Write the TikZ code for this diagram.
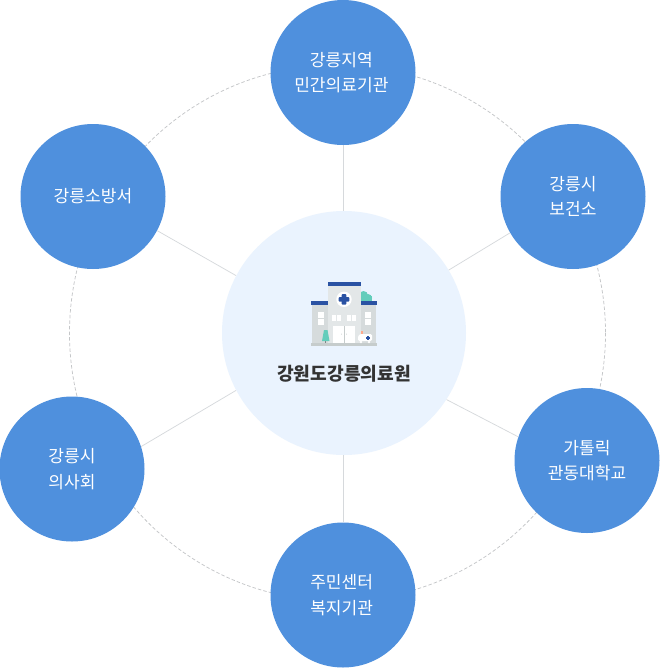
\documentclass[tikz,border=0pt]{standalone}
\usepackage{fontspec}
\setmainfont{Noto Sans CJK KR}
\definecolor{orb}{HTML}{4F90DD}
\definecolor{core}{HTML}{EAF3FE}
\definecolor{spoke}{HTML}{D6D9DC}
\definecolor{ringc}{HTML}{C4C6C8}
\definecolor{navy}{HTML}{2A52A3}
\definecolor{bldg}{HTML}{E3E7E8}
\definecolor{wing}{HTML}{D6DBDC}
\definecolor{bldgb}{HTML}{C6CCCC}
\definecolor{teal}{HTML}{63CDBB}
\tikzset{
  x=0.75pt,y=-0.75pt,
  orbnode/.style={circle,fill=orb,draw=none,minimum size=108.75pt,inner sep=0pt,text=white,align=center,font=\fontsize{12.8pt}{19.2pt}\selectfont},
  corenode/.style={circle,fill=core,draw=none,minimum size=183pt,inner sep=0pt},
  spokeline/.style={draw=spoke,line width=0.55pt},
  ringline/.style={draw=ringc,line width=0.55pt,dash pattern=on 2.6pt off 1.6pt},
  win/.style={fill=white,draw=none},
}
\begin{document}
\begin{tikzpicture}
\useasboundingbox (0,0) rectangle (660,668);
\fill[white] (0,0) rectangle (660,668);
\draw[ringline] (337.5,333) circle[radius=268];
\node[corenode] (c) at (344,333) {};
\node[orbnode] (n1) at (343,72.5) {강릉지역\kern2.4pt\\민간의료기관\kern2.4pt};
\node[orbnode] (n2) at (573,196.5) {강릉시\\보건소};
\node[orbnode] (n3) at (587,460.5) {가톨릭\\관동대학교};
\node[orbnode] (n4) at (343,595) {주민센터\kern2pt\\복지기관\kern2pt};
\node[orbnode] (n5) at (72,469) {강릉시\\의사회};
\node[orbnode] (n6) at (93,196.5) {강릉소방서};
\draw[spokeline] (n1.south) -- (n1 |- c.north);
\draw[spokeline] (n4.north) -- (n4 |- c.south);
\draw[spokeline] (c.31.8) -- (n2.210.8);
\draw[spokeline] (c.327.8) -- (n3.161.2);
\draw[spokeline] (c.208.5) -- (n5.18);
\draw[spokeline] (c.152.2) -- (n6.-28.6);
\node[font=\bfseries\fontsize{13.6pt}{16pt}\selectfont,text=black!80] (t) at (344,373.5) {강원도강릉의료원};
% hospital icon
\fill[teal] (363.5,295.5) circle[radius=4.5];
\fill[teal] (368,298) circle[radius=4];
\fill[teal] (360,291.5) rectangle (363.5,302);
\fill[teal] (363.5,296) rectangle (372,302);
\fill[wing] (312,303) rectangle (328,344);
\fill[wing] (360,303) rectangle (376,344);
\fill[bldg] (328,284) rectangle (360.5,344);
\fill[navy] (311,301) rectangle (328,305);
\fill[navy] (360.5,301) rectangle (377,305);
\fill[navy] (327.5,282) rectangle (361,285.5);
\fill[bldgb] (311,343) rectangle (377,346);
\fill[white] (344,299.3) circle[radius=7.7];
\fill[navy,rounded corners=0.6pt] (341.7,294) rectangle (346.3,304.6);
\fill[navy,rounded corners=0.6pt] (338.7,297) rectangle (349.3,301.6);
\foreach \px in {318,321,365,368}{\foreach \py in {312,315,319,322}{\fill[win] (\px,\py) rectangle +(2.5,2.5);}}
\foreach \px in {332,337,347,352}{\foreach \py in {315,318}{\fill[win] (\px,\py) rectangle +(4,2.5);}}
\fill[white] (333,326) rectangle (355,343);
\draw[bldgb,line width=0.3pt] (344,326) -- (344,343);
\fill[bldgb] (341.5,334) circle[radius=0.5] (346.5,334) circle[radius=0.5];
\fill[wing!60!black] (325,340) rectangle (326,343);
\fill[teal] (322,341) -- (324,330) -- (327.5,330) -- (329.5,341) -- cycle;
\fill[white,rounded corners=1pt] (358,336) -- (360,334) -- (372,334) -- (372,341) -- (358,341) -- cycle;
\fill[white] (361,342) circle[radius=1.3] (369,342) circle[radius=1.3];
\fill[navy] (367,335.5) rectangle (369,339.5);
\fill[navy] (366,336.5) rectangle (370,338.5);
\fill[orange!50!red!45] (360.5,331) rectangle (363,334);
\end{tikzpicture}
\end{document}
